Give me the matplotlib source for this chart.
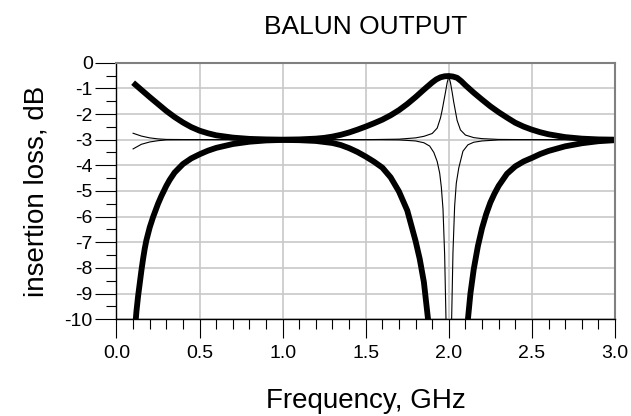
import numpy as np
import matplotlib
matplotlib.use('Agg')
import matplotlib.pyplot as plt
from matplotlib.ticker import MultipleLocator, FormatStrFormatter

plt.rcParams['font.family'] = ['Liberation Sans', 'DejaVu Sans']
plt.rcParams['axes.unicode_minus'] = False

# %% datos (frecuencia en GHz, perdida en dB)
# salida 1 (curva gruesa superior)
f_a = [0.10, 0.15, 0.20, 0.25, 0.30, 0.35, 0.40, 0.45, 0.50, 0.55, 0.60, 0.70,
       0.80, 0.90, 1.00, 1.10, 1.20, 1.25, 1.30, 1.35, 1.40, 1.45, 1.50, 1.55,
       1.60, 1.65, 1.70, 1.75, 1.80, 1.85, 1.90, 1.925, 1.95, 1.975, 2.00,
       2.025, 2.05, 2.075, 2.10, 2.15, 2.20, 2.25, 2.30, 2.35, 2.40, 2.45,
       2.50, 2.55, 2.60, 2.70, 2.80, 2.90, 3.00]
s_a = [-0.78, -1.06, -1.34, -1.61, -1.88, -2.12, -2.33, -2.51, -2.65, -2.75,
       -2.83, -2.92, -2.97, -2.99, -3.00, -2.99, -2.96, -2.93, -2.88, -2.81,
       -2.72, -2.61, -2.49, -2.36, -2.22, -2.05, -1.85, -1.61, -1.34, -1.05,
       -0.77, -0.65, -0.57, -0.53, -0.52, -0.54, -0.59, -0.72, -0.88, -1.17,
       -1.44, -1.70, -1.93, -2.14, -2.34, -2.49, -2.61, -2.71, -2.79, -2.90,
       -2.96, -2.99, -3.00]

# salida 2 (curva gruesa inferior, dos ramas)
f_b1 = [0.10, 0.12, 0.13, 0.14, 0.15, 0.16, 0.17, 0.18, 0.20, 0.22, 0.25,
        0.27, 0.30, 0.32, 0.35, 0.40, 0.45, 0.50, 0.55, 0.60, 0.70, 0.80,
        0.90, 1.00, 1.10, 1.20, 1.30, 1.35, 1.40, 1.45, 1.50, 1.55, 1.60,
        1.65, 1.70, 1.75, 1.80, 1.825, 1.85, 1.875, 1.89]
s_b1 = [-11.3, -9.70, -9.10, -8.60, -8.10, -7.65, -7.25, -6.92, -6.42, -6.02,
        -5.50, -5.20, -4.80, -4.57, -4.28, -3.95, -3.73, -3.57, -3.43, -3.32,
        -3.17, -3.08, -3.03, -3.01, -3.02, -3.05, -3.13, -3.21, -3.33, -3.48,
        -3.66, -3.86, -4.09, -4.47, -5.02, -5.76, -6.95, -7.65, -8.55, -10.0,
        -11.2]
f_b2 = [2.10, 2.115, 2.13, 2.15, 2.175, 2.20, 2.225, 2.25, 2.275, 2.30, 2.35,
        2.40, 2.45, 2.50, 2.55, 2.60, 2.70, 2.80, 2.90, 3.00]
s_b2 = [-11.6, -10.0, -9.00, -8.05, -7.15, -6.45, -5.90, -5.45, -5.10, -4.80,
        -4.33, -4.04, -3.85, -3.71, -3.56, -3.44, -3.26, -3.14, -3.06, -3.02]

# curvas delgadas
f_c = [0.10, 0.15, 0.20, 0.25, 0.30, 0.50, 1.00, 1.50, 1.70, 1.80, 1.85,
       1.90, 1.93, 1.95, 1.96, 1.97, 1.98, 1.99, 2.00, 2.01, 2.02, 2.03,
       2.04, 2.05, 2.07, 2.10, 2.15, 2.20, 2.30, 2.50, 3.00]
s_c = [-2.75, -2.86, -2.93, -2.97, -2.99, -3.00, -3.00, -3.00, -2.98, -2.93,
       -2.87, -2.76, -2.55, -2.15, -1.85, -1.50, -1.15, -0.78, -0.54, -0.78,
       -1.15, -1.55, -1.90, -2.25, -2.62, -2.82, -2.92, -2.96, -2.99, -3.00,
       -3.00]

f_d = [0.10, 0.15, 0.20, 0.25, 0.30, 0.50, 1.00, 1.50, 1.70, 1.80, 1.85,
       1.885, 1.91, 1.93, 1.945, 1.955, 1.965, 1.975, 1.983, 2.00, 2.017,
       2.025, 2.035, 2.045, 2.06, 2.085, 2.115, 2.15, 2.20, 2.30, 2.50, 3.00]
s_d = [-3.36, -3.18, -3.09, -3.04, -3.01, -3.00, -3.00, -3.00, -3.01, -3.05,
       -3.12, -3.25, -3.50, -3.85, -4.30, -4.85, -5.70, -7.50, -10.0, -16.0,
       -10.0, -7.40, -5.60, -4.70, -4.10, -3.45, -3.20, -3.10, -3.05, -3.01,
       -3.00, -3.00]

# %% grafico
fig = plt.figure(figsize=(6.31, 4.16), dpi=100)
ax = fig.add_axes([0.1846, 0.2325, 0.7900, 0.6168])

ax.plot(f_c, s_c, color='black', linewidth=0.8)
ax.plot(f_d, s_d, color='black', linewidth=0.8)
for f, s in [(f_a, s_a), (f_b1, s_b1), (f_b2, s_b2)]:
    ax.plot(f, s, color='black', linewidth=4.2, solid_capstyle='butt',
            solid_joinstyle='round')

ax.set_xlim(0, 3)
ax.set_ylim(-10, 0)
ax.xaxis.set_major_locator(MultipleLocator(0.5))
ax.xaxis.set_minor_locator(MultipleLocator(0.1))
ax.xaxis.set_major_formatter(FormatStrFormatter('%.1f'))
ax.yaxis.set_major_locator(MultipleLocator(1))
ax.yaxis.set_minor_locator(MultipleLocator(0.5))

ax.grid(which='major', color='#c8c8c8', linewidth=1.2, zorder=0)
ax.set_axisbelow(True)

ax.tick_params(axis='x', which='major', direction='out', length=13.7,
               width=0.8, pad=4.5, labelsize=14)
ax.tick_params(axis='x', which='minor', direction='out', length=7.2, width=0.8)
ax.tick_params(axis='y', which='major', direction='out', length=15,
               width=0.8, pad=2, labelsize=14)
ax.tick_params(axis='y', which='minor', direction='out', length=7.2, width=0.8)

for lado in ['top', 'right']:
    ax.spines[lado].set_color('#808080')
    ax.spines[lado].set_linewidth(1.5)
for lado in ['left', 'bottom']:
    ax.spines[lado].set_color('black')
    ax.spines[lado].set_linewidth(1.0)

ax.set_title('BALUN OUTPUT', fontsize=19, pad=21)
ax.set_xlabel('Frequency, GHz', fontsize=20)
ax.set_ylabel('insertion loss, dB', fontsize=20)
ax.xaxis.set_label_coords(0.5, -0.268)
ax.yaxis.set_label_coords(-0.135, 0.5)

fig.savefig('out.png', dpi=100)
